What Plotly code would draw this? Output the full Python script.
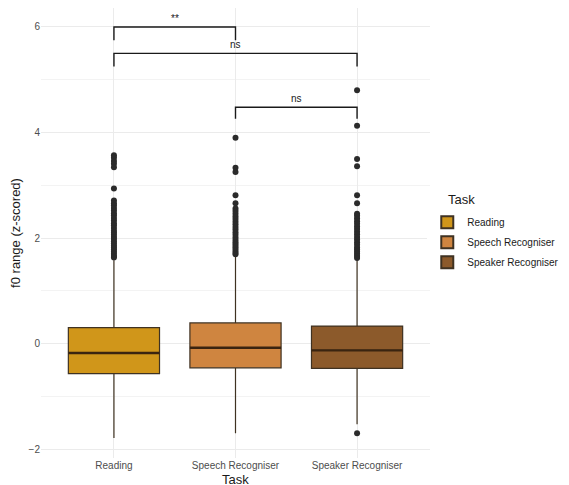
import plotly.graph_objects as go

tasks = ["Reading", "Speech Recogniser", "Speaker Recogniser"]
colors = ["#D0961A", "#CF8540", "#8C5A2B"]
q1 = [-0.57, -0.46, -0.47]
median = [-0.18, -0.08, -0.13]
q3 = [0.30, 0.39, 0.33]
lower_fence = [-1.79, -1.70, -1.53]
upper_fence = [1.58, 1.64, 1.58]

outliers = {
    "Reading": [3.57, 3.52, 3.46, 3.41, 3.34, 2.94, 2.71, 2.66, 2.62, 2.57, 2.52, 2.47, 2.43,
                2.38, 2.33, 2.28, 2.24, 2.19, 2.14, 2.10, 2.06, 2.02, 1.98, 1.94, 1.90, 1.86,
                1.82, 1.78, 1.74, 1.70, 1.66, 1.63],
    "Speech Recogniser": [3.90, 3.33, 3.25, 2.81, 2.66, 2.56, 2.51, 2.46, 2.41, 2.36, 2.31,
                          2.26, 2.21, 2.16, 2.11, 2.06, 2.01, 1.96, 1.92, 1.88, 1.84, 1.80,
                          1.76, 1.72, 1.69],
    "Speaker Recogniser": [4.80, 4.13, 3.50, 3.36, 2.81, 2.66, 2.46, 2.42, 2.37, 2.32, 2.27,
                           2.22, 2.17, 2.12, 2.07, 2.02, 1.97, 1.92, 1.87, 1.82, 1.78, 1.74,
                           1.70, 1.66, 1.62, -1.70],
}

# significance brackets: (start task, end task, line level, tip level, label)
bracket_start = ["Reading", "Reading", "Speech Recogniser"]
bracket_end = ["Speech Recogniser", "Speaker Recogniser", "Speaker Recogniser"]
bracket_level = [6.00, 5.50, 4.48]
bracket_tip = [5.75, 5.25, 4.26]
bracket_label = ["**", "ns", "ns"]

font_family = "Liberation Sans, Arial, sans-serif"
BOX_W = 0.75

fig = go.Figure()

for i, t in enumerate(tasks):
    fig.add_trace(go.Box(
        x=[i], q1=[q1[i]], median=[median[i]], q3=[q3[i]],
        lowerfence=[lower_fence[i]], upperfence=[upper_fence[i]],
        name=t, fillcolor=colors[i], legendgroup=t,
        line=dict(color="#3f3222", width=1.2),
        whiskerwidth=0, width=BOX_W, boxpoints=False,
        hoverinfo="skip",
    ))
    # thicker median line like ggplot
    fig.add_trace(go.Scatter(
        x=[i - BOX_W / 2, i + BOX_W / 2], y=[median[i], median[i]], mode="lines",
        line=dict(color="#3a2410", width=2.4),
        showlegend=False, hoverinfo="skip",
    ))
    fig.add_trace(go.Scatter(
        x=[i] * len(outliers[t]), y=outliers[t], mode="markers",
        marker=dict(color="#2b2b2b", size=6),
        showlegend=False, hoverinfo="skip",
    ))

for s, e, lv, tp, lab in zip(bracket_start, bracket_end, bracket_level, bracket_tip, bracket_label):
    si, ei = tasks.index(s), tasks.index(e)
    fig.add_trace(go.Scatter(
        x=[si, si, ei, ei], y=[tp, lv, lv, tp], mode="lines",
        line=dict(color="#1a1a1a", width=1.4),
        showlegend=False, hoverinfo="skip",
    ))
    fig.add_annotation(
        x=(si + ei) / 2, y=lv, text=lab, showarrow=False, yanchor="bottom", yshift=1,
        font=dict(size=10, color="#1a1a1a", family=font_family),
    )

# legend title (placed as text to match ggplot's offset)
fig.add_annotation(
    xref="paper", yref="paper", x=1.042, y=0.575, xanchor="left", yanchor="middle",
    text="Task", showarrow=False, font=dict(size=13, color="#1a1a1a", family=font_family),
)
# x-axis title, sitting low as in the reference
fig.add_annotation(
    xref="paper", yref="paper", x=0.5, y=-0.047, xanchor="center", yanchor="middle",
    text="Task", showarrow=False, font=dict(size=13, color="#1a1a1a", family=font_family),
)

fig.update_layout(
    width=561, height=477,
    margin=dict(l=33, r=139, t=0, b=27, autoexpand=False),
    paper_bgcolor="white", plot_bgcolor="white",
    font=dict(family=font_family),
    boxmode="overlay",
    showlegend=True,
    legend=dict(
        font=dict(size=10, color="#1a1a1a"),
        x=0.993, xanchor="left", y=0.556, yanchor="top",
        tracegroupgap=1, itemsizing="constant",
    ),
    xaxis=dict(
        range=[-0.6, 2.6],
        tickvals=[0, 1, 2], ticktext=tasks,
        showgrid=True, gridcolor="#ebebeb", gridwidth=1,
        zeroline=False, showline=False, ticks="",
        tickfont=dict(size=10, color="#4d4d4d"),
        automargin=False,
    ),
    yaxis=dict(
        range=[-2.17, 6.36],
        tickvals=[-2, 0, 2, 4, 6],
        showgrid=True, gridcolor="#ebebeb", gridwidth=1,
        minor=dict(tickvals=[-1, 1, 3, 5], showgrid=True, gridcolor="#f3f3f3", gridwidth=0.6),
        zeroline=False, showline=False, ticks="",
        tickfont=dict(size=10, color="#4d4d4d"),
        title=dict(text="f0 range (z-scored)", font=dict(size=13, color="#1a1a1a"), standoff=6),
        automargin=False,
    ),
)

fig.write_html("out.html")
